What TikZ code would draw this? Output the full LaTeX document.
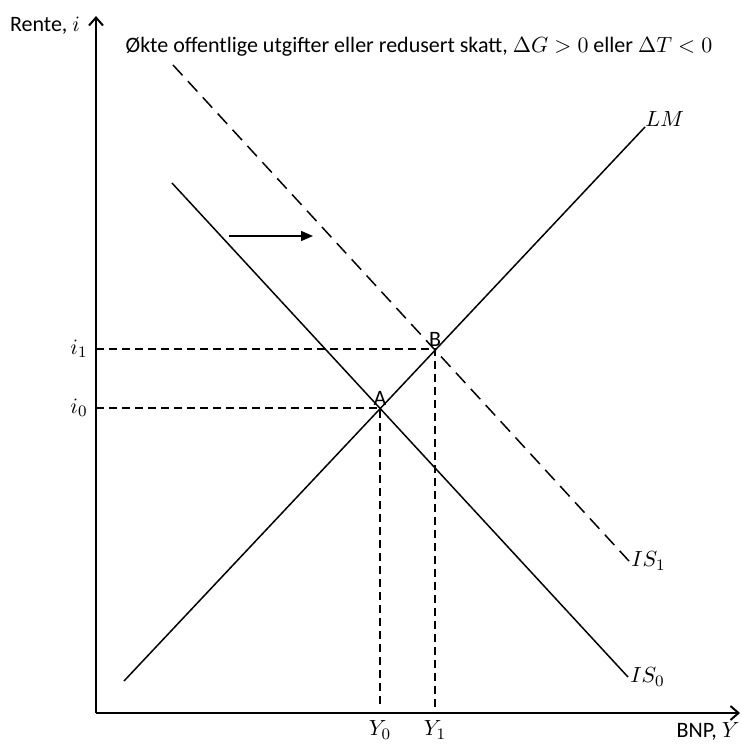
\documentclass[tikz,border=0pt]{standalone}
\usepackage{fontspec}
\setmainfont{Carlito}
\usetikzlibrary{arrows.meta}
\tikzset{
  axis/.style={line width=1pt, -{Straight Barb[length=4pt,width=7pt]}},
  curve/.style={line width=0.75pt},
  guide/.style={line width=0.75pt, dash pattern=on 4pt off 2.5pt},
  lbl/.style={font=\fontsize{11}{13}\selectfont, inner sep=1pt}
}
\begin{document}
\begin{tikzpicture}[x=0.5pt, y=-0.5pt]
        \useasboundingbox (0,0) rectangle (742,745);

        % Axes
        \coordinate (O) at (96,713);
        \coordinate (ytop) at (96,16);
        \coordinate (xend) at (740,713);
        \draw[axis] (O) -- (ytop);
        \draw[axis] (O) -- (xend);
        \node[lbl] (rente) at (45,26) {Rente, $i$};
        \node[lbl] (bnp) at (708,731) {BNP, $Y$};

        % LM and IS curves
        \coordinate (lm0) at (124,681);
        \coordinate (lm1) at (645,127);
        \coordinate (isa0) at (172,183);
        \coordinate (isa1) at (628,677);
        \coordinate (isb0) at (173,65);
        \coordinate (isb1) at (629,561);
        \draw[curve] (lm0) -- (lm1);
        \draw[curve] (isa0) -- (isa1);
        \draw[curve, dash pattern=on 7pt off 4pt] (isb0) -- (isb1);
        \node[lbl, anchor=south west, inner sep=0pt] (lmlab) at (lm1) {$LM$};
        \node[lbl, anchor=west] (is0lab) at (isa1) {$IS_0$};
        \node[lbl, anchor=west] (is1lab) at (isb1) {$IS_1$};

        % Shift
        \coordinate (s0) at (229,236);
        \coordinate (s1) at (313,236);
        \draw[curve, -{Triangle[length=6pt,width=5pt]}] (s0) -- (s1);
        \node[lbl] (title) at (419,47) {Økte offentlige utgifter eller redusert skatt, $\Delta G>0$ eller $\Delta T<0$};

        % Equilibria
        \coordinate (A) at (380,408);
        \coordinate (B) at (435,349);
        \node[lbl, anchor=south] (alab) at (A) {A};
        \node[lbl, anchor=south] (blab) at (B) {B};
        \coordinate (iA) at (O |- A);
        \coordinate (iB) at (O |- B);
        \coordinate (yA) at (380,707);
        \coordinate (yB) at (435,707);
        \draw[guide] (iA) -- (A) -- (yA);
        \draw[guide] (iB) -- (B) -- (yB);
        \node[lbl] (i0) at (79,408) {$i_0$};
        \node[lbl] (i1) at (79,349) {$i_1$};
        \node[lbl] (y0) at (380,730) {$Y_0$};
        \node[lbl] (y1) at (435,730) {$Y_1$};
\end{tikzpicture}
\end{document}
